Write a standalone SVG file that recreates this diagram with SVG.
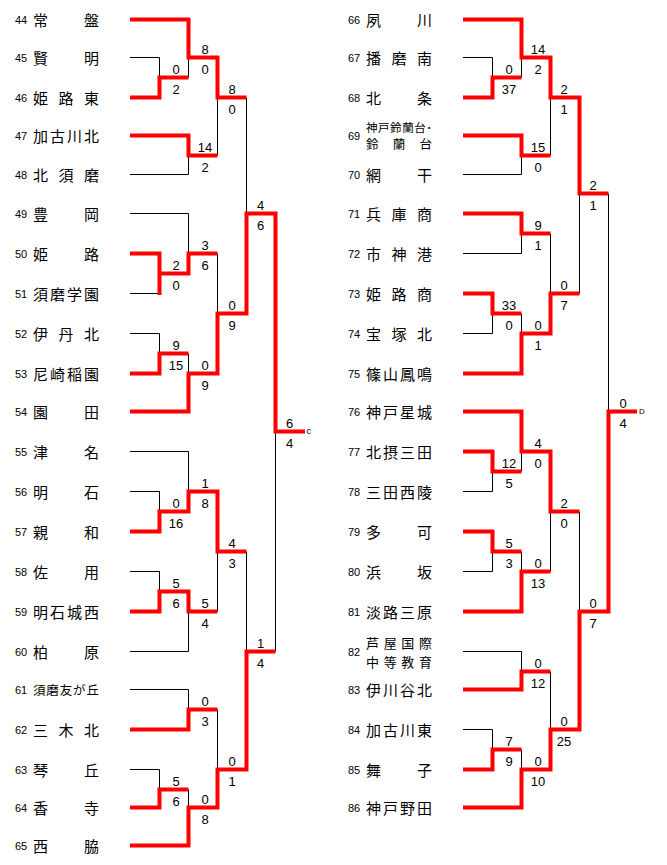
<svg xmlns="http://www.w3.org/2000/svg" width="667" height="865" viewBox="0 0 667 865">
<style>
.nm{font-family:"Noto Sans CJK JP","Noto Sans CJK SC",sans-serif;font-size:15px;fill:#000}
.sm{font-size:12.5px}
.num{font-family:"Liberation Sans",Arial,sans-serif;font-size:11px;fill:#000}
.sc{font-family:"Liberation Sans",Arial,sans-serif;font-size:13px;text-anchor:middle;fill:#000}
.mk{font-family:"Liberation Sans",Arial,sans-serif;font-size:9px;fill:#000}
.b{stroke:#000;stroke-width:1;fill:none}
.r{stroke:#f00;stroke-width:4;fill:none;stroke-linejoin:miter}
</style>
<rect width="667" height="865" fill="#fff"/>
<g id="connectors">
<g id="black-lines" class="b">
<path d="M130,57.5H159.5M130,174.5H188.5M130,213.5H188.5M130,293.5H159.5M130,333.5H159.5M130,451.5H188.5M130,491.5H159.5M130,571.5H159.5M130,651.5H188.5M130,689.5H188.5M130,769.5H159.5"/>
<path d="M463,57.5H492.5M463,174.5H521.5M463,253.5H521.5M463,333.5H492.5M463,491.5H492.5M463,571.5H492.5M463,651.5H521.5M463,729.5H492.5"/>
<path d="M159.5,57.5V97.5M188.5,19.5V77.5M188.5,135.5V174.5M217.5,57.5V155.5M159.5,253.5V293.5M188.5,213.5V273.5M159.5,333.5V373.5M188.5,353.5V411.5M217.5,253.5V373.5M246.5,97.5V313.5M159.5,491.5V531.5M188.5,451.5V511.5M159.5,571.5V611.5M188.5,591.5V651.5M217.5,491.5V611.5M188.5,689.5V729.5M159.5,769.5V807.5M188.5,789.5V845.5M217.5,709.5V807.5M246.5,551.5V769.5M275.5,213.5V651.5"/>
<path d="M492.5,57.5V97.5M521.5,19.5V77.5M521.5,135.5V174.5M550.5,57.5V155.5M521.5,213.5V253.5M492.5,293.5V333.5M521.5,313.5V373.5M550.5,233.5V333.5M579.5,97.5V293.5M492.5,451.5V491.5M521.5,411.5V471.5M492.5,531.5V571.5M521.5,551.5V611.5M550.5,451.5V571.5M521.5,651.5V689.5M492.5,729.5V769.5M521.5,749.5V807.5M550.5,671.5V769.5M579.5,511.5V729.5M608.5,193.5V611.5"/>
</g>
<g id="red-lines" class="r">
<path d="M130,19.5H188.5V57.5H217.5V97.5H246.5"/>
<path d="M130,97.5H159.5V77.5H188.5"/>
<path d="M130,135.5H188.5V155.5H217.5"/>
<path d="M130,253.5H159.5V273.5H188.5V253.5H217.5M159.5,273.5V295"/>
<path d="M130,373.5H159.5V353.5H188.5"/>
<path d="M130,411.5H188.5V373.5H217.5V313.5H246.5V213.5H275.5V431.5H305"/>
<path d="M130,531.5H159.5V511.5H188.5V491.5H217.5V551.5H246.5"/>
<path d="M130,611.5H159.5V591.5H188.5V611.5H217.5"/>
<path d="M130,729.5H188.5V709.5H217.5"/>
<path d="M130,807.5H159.5V789.5H188.5"/>
<path d="M130,845.5H188.5V807.5H217.5V769.5H246.5V651.5H275.5"/>
<path d="M463,19.5H521.5V57.5H550.5V97.5H579.5V193.5H608.5"/>
<path d="M463,97.5H492.5V77.5H521.5"/>
<path d="M463,135.5H521.5V155.5H550.5"/>
<path d="M463,213.5H521.5V233.5H550.5"/>
<path d="M463,293.5H492.5V313.5H521.5"/>
<path d="M463,373.5H521.5V333.5H550.5V293.5H579.5"/>
<path d="M463,411.5H521.5V451.5H550.5V511.5H579.5"/>
<path d="M463,451.5H492.5V471.5H521.5"/>
<path d="M463,531.5H492.5V551.5H521.5"/>
<path d="M463,611.5H521.5V571.5H550.5"/>
<path d="M463,689.5H521.5V671.5H550.5"/>
<path d="M463,769.5H492.5V749.5H521.5"/>
<path d="M463,807.5H521.5V769.5H550.5V729.5H579.5V611.5H608.5V411.5H637"/>
</g>
<g id="scores" class="sc">
<text x="176" y="74">0</text><text x="176" y="94">2</text>
<text x="205" y="54">8</text><text x="205" y="74">0</text>
<text x="205" y="152">14</text><text x="205" y="172">2</text>
<text x="232" y="94">8</text><text x="232" y="114">0</text>
<text x="176" y="270">2</text><text x="176" y="290">0</text>
<text x="205" y="250">3</text><text x="205" y="270">6</text>
<text x="176" y="350">9</text><text x="176" y="370">15</text>
<text x="205" y="370">0</text><text x="205" y="390">9</text>
<text x="232" y="310">0</text><text x="232" y="330">9</text>
<text x="260.5" y="210">4</text><text x="260.5" y="230">6</text>
<text x="176" y="508">0</text><text x="176" y="528">16</text>
<text x="205" y="488">1</text><text x="205" y="508">8</text>
<text x="176" y="588">5</text><text x="176" y="608">6</text>
<text x="205" y="608">5</text><text x="205" y="628">4</text>
<text x="232" y="548">4</text><text x="232" y="568">3</text>
<text x="205" y="706">0</text><text x="205" y="726">3</text>
<text x="176" y="786">5</text><text x="176" y="806">6</text>
<text x="205" y="804">0</text><text x="205" y="824">8</text>
<text x="232" y="766">0</text><text x="232" y="786">1</text>
<text x="260.5" y="648">1</text><text x="260.5" y="668">4</text>
<text x="289.5" y="428">6</text><text x="289.5" y="448">4</text>
<text x="509" y="74">0</text><text x="509" y="94">37</text>
<text x="538" y="54">14</text><text x="538" y="74">2</text>
<text x="538" y="152">15</text><text x="538" y="172">0</text>
<text x="564" y="94">2</text><text x="564" y="114">1</text>
<text x="538" y="230">9</text><text x="538" y="250">1</text>
<text x="509" y="310">33</text><text x="509" y="330">0</text>
<text x="538" y="330">0</text><text x="538" y="350">1</text>
<text x="564" y="290">0</text><text x="564" y="310">7</text>
<text x="593" y="190">2</text><text x="593" y="210">1</text>
<text x="509" y="468">12</text><text x="509" y="488">5</text>
<text x="538" y="448">4</text><text x="538" y="468">0</text>
<text x="509" y="548">5</text><text x="509" y="568">3</text>
<text x="538" y="568">0</text><text x="538" y="588">13</text>
<text x="564" y="508">2</text><text x="564" y="528">0</text>
<text x="538" y="668">0</text><text x="538" y="688">12</text>
<text x="509" y="746">7</text><text x="509" y="766">9</text>
<text x="538" y="766">0</text><text x="538" y="786">10</text>
<text x="564" y="726">0</text><text x="564" y="746">25</text>
<text x="593" y="608">0</text><text x="593" y="628">7</text>
<text x="623" y="408">0</text><text x="623" y="428">4</text>
</g>
<text class="mk" x="306.5" y="434">c</text>
<text class="mk" x="639" y="414" style="font-size:8px">D</text>
</g>
<g id="t44"><text class="num" x="15" y="24">44</text><text class="nm" x="33" y="25.5" textLength="66" lengthAdjust="spacing">常盤</text></g>
<g id="t45"><text class="num" x="15" y="62">45</text><text class="nm" x="33" y="63.5" textLength="66" lengthAdjust="spacing">賢明</text></g>
<g id="t46"><text class="num" x="15" y="102">46</text><text class="nm" x="33" y="103.5" textLength="66" lengthAdjust="spacing">姫路東</text></g>
<g id="t47"><text class="num" x="15" y="140">47</text><text class="nm" x="33" y="141.5" textLength="66" lengthAdjust="spacing">加古川北</text></g>
<g id="t48"><text class="num" x="15" y="179">48</text><text class="nm" x="33" y="180.5" textLength="66" lengthAdjust="spacing">北須磨</text></g>
<g id="t49"><text class="num" x="15" y="218">49</text><text class="nm" x="33" y="219.5" textLength="66" lengthAdjust="spacing">豊岡</text></g>
<g id="t50"><text class="num" x="15" y="258">50</text><text class="nm" x="33" y="259.5" textLength="66" lengthAdjust="spacing">姫路</text></g>
<g id="t51"><text class="num" x="15" y="298">51</text><text class="nm" x="33" y="299.5" textLength="66" lengthAdjust="spacing">須磨学園</text></g>
<g id="t52"><text class="num" x="15" y="338">52</text><text class="nm" x="33" y="339.5" textLength="66" lengthAdjust="spacing">伊丹北</text></g>
<g id="t53"><text class="num" x="15" y="378">53</text><text class="nm" x="33" y="379.5" textLength="66" lengthAdjust="spacing">尼崎稲園</text></g>
<g id="t54"><text class="num" x="15" y="416">54</text><text class="nm" x="33" y="417.5" textLength="66" lengthAdjust="spacing">園田</text></g>
<g id="t55"><text class="num" x="15" y="456">55</text><text class="nm" x="33" y="457.5" textLength="66" lengthAdjust="spacing">津名</text></g>
<g id="t56"><text class="num" x="15" y="496">56</text><text class="nm" x="33" y="497.5" textLength="66" lengthAdjust="spacing">明石</text></g>
<g id="t57"><text class="num" x="15" y="536">57</text><text class="nm" x="33" y="537.5" textLength="66" lengthAdjust="spacing">親和</text></g>
<g id="t58"><text class="num" x="15" y="576">58</text><text class="nm" x="33" y="577.5" textLength="66" lengthAdjust="spacing">佐用</text></g>
<g id="t59"><text class="num" x="15" y="616">59</text><text class="nm" x="33" y="617.5" textLength="66" lengthAdjust="spacing">明石城西</text></g>
<g id="t60"><text class="num" x="15" y="656">60</text><text class="nm" x="33" y="657.5" textLength="66" lengthAdjust="spacing">柏原</text></g>
<g id="t61"><text class="num" x="15" y="694">61</text><text class="nm sm" x="33" y="695" textLength="66" lengthAdjust="spacing">須磨友が丘</text></g>
<g id="t62"><text class="num" x="15" y="734">62</text><text class="nm" x="33" y="735.5" textLength="66" lengthAdjust="spacing">三木北</text></g>
<g id="t63"><text class="num" x="15" y="774">63</text><text class="nm" x="33" y="775.5" textLength="66" lengthAdjust="spacing">琴丘</text></g>
<g id="t64"><text class="num" x="15" y="812">64</text><text class="nm" x="33" y="813.5" textLength="66" lengthAdjust="spacing">香寺</text></g>
<g id="t65"><text class="num" x="15" y="850">65</text><text class="nm" x="33" y="851.5" textLength="66" lengthAdjust="spacing">西脇</text></g>
<g id="t66"><text class="num" x="348" y="24">66</text><text class="nm" x="366" y="25.5" textLength="66" lengthAdjust="spacing">夙川</text></g>
<g id="t67"><text class="num" x="348" y="62">67</text><text class="nm" x="366" y="63.5" textLength="66" lengthAdjust="spacing">播磨南</text></g>
<g id="t68"><text class="num" x="348" y="102">68</text><text class="nm" x="366" y="103.5" textLength="66" lengthAdjust="spacing">北条</text></g>
<g id="t69"><text class="num" x="348" y="140">69</text><text class="nm" x="366" y="131.5" style="font-size:11.5px" textLength="66" lengthAdjust="spacing">神戸鈴蘭台･</text><text class="nm" x="366" y="148.5" style="font-size:12.5px" textLength="66" lengthAdjust="spacing">鈴蘭台</text></g>
<g id="t70"><text class="num" x="348" y="179">70</text><text class="nm" x="366" y="180.5" textLength="66" lengthAdjust="spacing">網干</text></g>
<g id="t71"><text class="num" x="348" y="218">71</text><text class="nm" x="366" y="219.5" textLength="66" lengthAdjust="spacing">兵庫商</text></g>
<g id="t72"><text class="num" x="348" y="258">72</text><text class="nm" x="366" y="259.5" textLength="66" lengthAdjust="spacing">市神港</text></g>
<g id="t73"><text class="num" x="348" y="298">73</text><text class="nm" x="366" y="299.5" textLength="66" lengthAdjust="spacing">姫路商</text></g>
<g id="t74"><text class="num" x="348" y="338">74</text><text class="nm" x="366" y="339.5" textLength="66" lengthAdjust="spacing">宝塚北</text></g>
<g id="t75"><text class="num" x="348" y="378">75</text><text class="nm" x="366" y="379.5" textLength="66" lengthAdjust="spacing">篠山鳳鳴</text></g>
<g id="t76"><text class="num" x="348" y="416">76</text><text class="nm" x="366" y="417.5" textLength="66" lengthAdjust="spacing">神戸星城</text></g>
<g id="t77"><text class="num" x="348" y="456">77</text><text class="nm" x="366" y="457.5" textLength="66" lengthAdjust="spacing">北摂三田</text></g>
<g id="t78"><text class="num" x="348" y="496">78</text><text class="nm" x="366" y="497.5" textLength="66" lengthAdjust="spacing">三田西陵</text></g>
<g id="t79"><text class="num" x="348" y="536">79</text><text class="nm" x="366" y="537.5" textLength="66" lengthAdjust="spacing">多可</text></g>
<g id="t80"><text class="num" x="348" y="576">80</text><text class="nm" x="366" y="577.5" textLength="66" lengthAdjust="spacing">浜坂</text></g>
<g id="t81"><text class="num" x="348" y="616">81</text><text class="nm" x="366" y="617.5" textLength="66" lengthAdjust="spacing">淡路三原</text></g>
<g id="t82"><text class="num" x="348" y="656">82</text><text class="nm" x="366" y="647.5" style="font-size:13px" textLength="66" lengthAdjust="spacing">芦屋国際</text><text class="nm" x="366" y="666.5" style="font-size:13px" textLength="66" lengthAdjust="spacing">中等教育</text></g>
<g id="t83"><text class="num" x="348" y="694">83</text><text class="nm" x="366" y="695.5" textLength="66" lengthAdjust="spacing">伊川谷北</text></g>
<g id="t84"><text class="num" x="348" y="734">84</text><text class="nm" x="366" y="735.5" textLength="66" lengthAdjust="spacing">加古川東</text></g>
<g id="t85"><text class="num" x="348" y="774">85</text><text class="nm" x="366" y="775.5" textLength="66" lengthAdjust="spacing">舞子</text></g>
<g id="t86"><text class="num" x="348" y="812">86</text><text class="nm" x="366" y="813.5" textLength="66" lengthAdjust="spacing">神戸野田</text></g>
</svg>
